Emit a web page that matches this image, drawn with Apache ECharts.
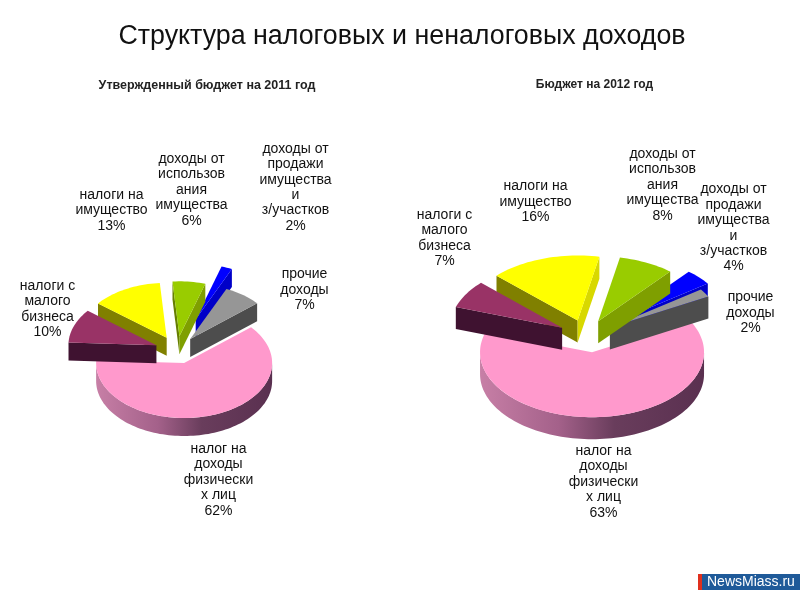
<!DOCTYPE html>
<html><head><meta charset="utf-8">
<style>html,body{margin:0;padding:0;background:#fff}#c{width:800px;height:600px}</style>
<script src="https://cdn.jsdelivr.net/npm/echarts@6/dist/echarts.min.js"></script>
</head><body><div id="c"></div>
<script>
const categories = [
  'налог на\nдоходы\nфизически\nх лиц',
  'налоги с\nмалого\nбизнеса',
  'налоги на\nимущество',
  'доходы от\nиспользов\nания\nимущества',
  'доходы от\nпродажи\nимущества\nи\nз/участков',
  'прочие\nдоходы'
];
const values2011 = [62, 10, 13, 6, 2, 7];
const values2012 = [63, 7, 16, 8, 4, 2];

const FONT = '"Liberation Sans", Arial, sans-serif';
const topColors  = ['#FF99CC', '#993366', '#FFFF00', '#99CC00', '#0000FF', '#969696'];
const wallColors = ['#7a4766', '#3f1230', '#808000', '#667F00', '#0000A0', '#595959'];
const endColors  = ['#7a4766', '#3f1230', '#D8D800', '#7F9F00', '#0000C8', '#4d4d4d'];
const paintOrder = [0, 4, 5, 3, 2, 1];

const chart = echarts.init(document.getElementById('c'), null, {renderer: 'canvas'});

function pieSeries(values, cfg) {
  const total = values.reduce((a, b) => a + b, 0);
  const starts = [];
  let acc = cfg.start;
  values.forEach(v => { starts.push(acc); acc += v / total * 360; });
  const rad = d => d * Math.PI / 180;
  return {
    type: 'custom',
    coordinateSystem: 'none',
    silent: true,
    animation: false,
    data: paintOrder.map(i => [values[i], starts[i], i]),
    renderItem: function (params, api) {
      const v = api.value(0), a0 = api.value(1), i = api.value(2);
      const a1 = a0 + v / total * 360, mid = (a0 + a1) / 2;
      const e = cfg.explode[i];
      const ax = cfg.cx + cfg.nudge[i] + Math.sin(rad(mid)) * e * cfg.rx;
      const ay = cfg.cy - Math.cos(rad(mid)) * e * cfg.ry;
      const pt = (d, dz) => [ax + Math.sin(rad(d)) * cfg.rx, ay - Math.cos(rad(d)) * cfg.ry + (dz || 0)];
      const arc = (from, to, dz) => {
        const out = [], n = Math.max(2, Math.ceil(Math.abs(to - from) / 2));
        for (let k = 0; k <= n; k++) out.push(pt(from + (to - from) * k / n, dz));
        return out;
      };
      const D = cfg.depth;
      const kids = [];
      const sinS = Math.sin(rad(a0)), sinE = Math.sin(rad(a1));
      if (sinS < 0) {
        kids.push({type: 'polygon', shape: {points: [[ax, ay], pt(a0), pt(a0, D), [ax, ay + D]]},
          style: {fill: wallColors[i]}});
      }
      if (sinE > 0) {
        kids.push({type: 'polygon', shape: {points: [[ax, ay], pt(a1), pt(a1, D), [ax, ay + D]]},
          style: {fill: endColors[i]}});
      }
      // outer curved wall: only the part facing the viewer (90..270 degrees)
      for (const shift of [0, 360]) {
        const f = Math.max(a0, 90 + shift), t = Math.min(a1, 270 + shift);
        if (t > f) {
          const top = arc(f, t, 0), bot = arc(t, f, D);
          kids.push({type: 'polygon', shape: {points: top.concat(bot)},
            style: {fill: i === 0 ? new echarts.graphic.LinearGradient(0, 0, 1, 0, [
              {offset: 0, color: '#C77FA6'},
              {offset: 0.35, color: '#A4618A'},
              {offset: 0.6, color: '#693D5C'},
              {offset: 1, color: '#5A3050'}
            ]) : wallColors[i]}});
        }
      }
      kids.push({type: 'polygon', shape: {points: [[ax, ay]].concat(arc(a0, a1, 0))},
        style: {fill: topColors[i]}});
      const lp = cfg.labels[i];
      kids.push({type: 'text', z2: 50, style: {
        text: categories[i] + '\n' + v + '%',
        x: lp[0], y: lp[1], align: 'center', verticalAlign: 'middle',
        font: '14px ' + FONT, lineHeight: 15.4, fill: '#111'
      }});
      return {type: 'group', children: kids};
    }
  };
}

const left = {
  cx: 177, cy: 350, rx: 88, ry: 55, depth: 18, start: 49.5,
  explode: [0.25, 0.25, 0.25, 0.25, 0.6, 0.25],
  nudge: [0, 0, 0, 0, 0, 0],
  labels: [[218.5, 480], [47.5, 309], [111.5, 210.5], [191.5, 190], [295.5, 187.5], [304.5, 290]]
};
const right = {
  cx: 589.6, cy: 336, rx: 112, ry: 65, depth: 22, start: 61.6,
  explode: [0.25, 0.25, 0.25, 0.25, 0.33, 0.25],
  nudge: [0, -3.5, -3.5, -3.5, 0, -3.5],
  labels: [[603.5, 482], [444.5, 238], [535.5, 202], [662.5, 185], [733.5, 228], [750.5, 313]]
};

chart.setOption({
  animation: false,
  backgroundColor: '#fff',
  title: [
    {text: 'Структура налоговых и неналоговых доходов', left: 402, top: 37, padding: 0, textAlign: 'center', textVerticalAlign: 'middle',
     textStyle: {fontFamily: FONT, fontSize: 26.8, fontWeight: 'normal', color: '#111'}},
    {text: 'Утвержденный бюджет на 2011 год', left: 207, top: 86, padding: 0, textAlign: 'center', textVerticalAlign: 'middle',
     textStyle: {fontFamily: FONT, fontSize: 12.5, fontWeight: 'bold', color: '#222'}},
    {text: 'Бюджет на 2012 год', left: 594.5, top: 85, padding: 0, textAlign: 'center', textVerticalAlign: 'middle',
     textStyle: {fontFamily: FONT, fontSize: 12, fontWeight: 'bold', color: '#222'}}
  ],
  graphic: [
    {type: 'rect', shape: {x: 698, y: 574, width: 4, height: 16}, style: {fill: '#E0301E'}},
    {type: 'rect', shape: {x: 702, y: 574, width: 98, height: 16}, style: {fill: '#1F5A99'}},
    {type: 'text', style: {text: 'NewsMiass.ru', x: 707, y: 582, verticalAlign: 'middle',
      font: '14px ' + FONT, fill: '#fff'}}
  ],
  series: [pieSeries(values2011, left), pieSeries(values2012, right)]
});
</script></body></html>
